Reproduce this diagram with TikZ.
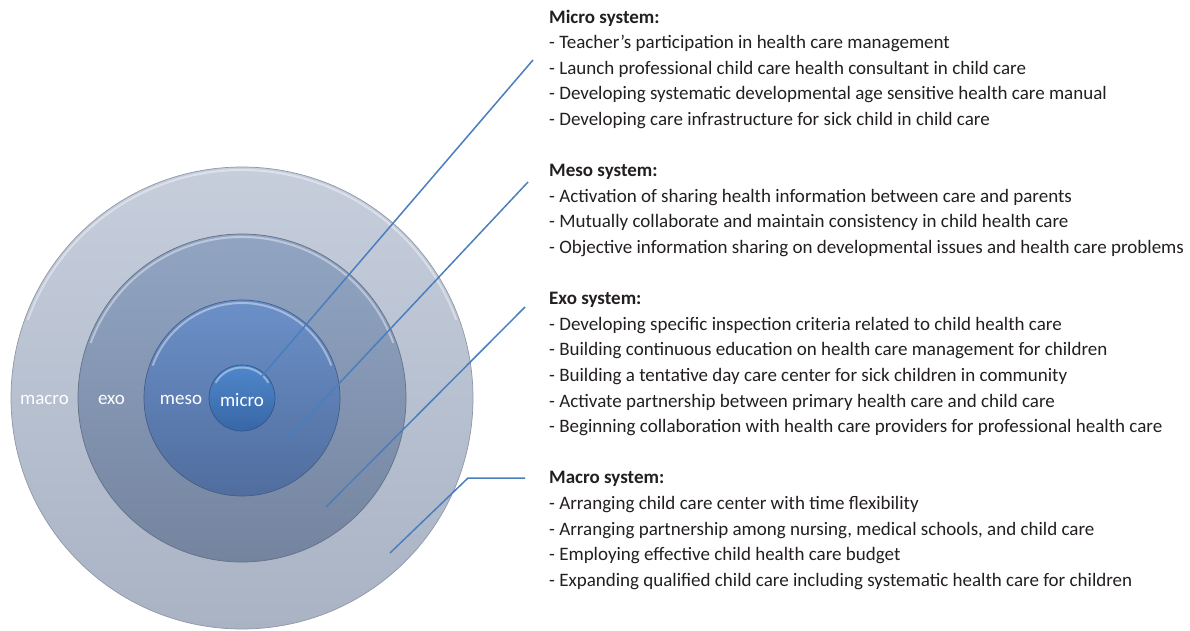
\documentclass[tikz,border=0pt]{standalone}
\usepackage{fontspec}
\setmainfont{Carlito}
\definecolor{macroTop}{HTML}{C6CEDC}
\definecolor{macroBot}{HTML}{A9B3C4}
\definecolor{exoTop}{HTML}{91A5C3}
\definecolor{exoBot}{HTML}{74849F}
\definecolor{mesoTop}{HTML}{6B90C8}
\definecolor{mesoBot}{HTML}{506D9E}
\definecolor{microTop}{HTML}{4F88CB}
\definecolor{microBot}{HTML}{3866A6}
\definecolor{linkblue}{HTML}{4A7EBE}
\definecolor{txt}{HTML}{231F20}
\begin{document}
\begin{tikzpicture}[x=1pt,y=-1pt,
  ring/.style={circle,inner sep=0pt,draw=#1Bot!85!black,line width=0.7pt,top color=#1Top,bottom color=#1Bot},
  rim/.style={draw=white,draw opacity=0.4,line width=2pt},
  conn/.style={draw=linkblue,line width=1.5pt},
  ringlabel/.style={text=white,inner sep=0pt,font=\fontsize{19}{19}\selectfont},
  head/.style={anchor=base west,inner sep=0pt,text=txt,font=\fontsize{19}{19}\selectfont\bfseries},
  item/.style={anchor=base west,inner sep=0pt,text=txt,font=\fontsize{19}{19}\selectfont}]
\useasboundingbox (0,0) rectangle (1190,630);
\fill[white] (0,0) rectangle (1190,630);

% rings
\node[ring=macro,minimum size=462pt] (macro) at (242,398) {};
\draw[rim] (macro.center) ++(200:228) arc[start angle=200,end angle=340,radius=228];
\node[ring=exo,minimum size=328pt] (exo) at (242,398) {};
\draw[rim] (exo.center) ++(200:161) arc[start angle=200,end angle=340,radius=161];
\node[ring=meso,minimum size=196pt] (meso) at (242,398) {};
\draw[rim] (meso.center) ++(200:95) arc[start angle=200,end angle=340,radius=95];
\node[ring=micro,minimum size=66pt] (micro) at (242,398) {};
\draw[rim] (micro.center) ++(210:30.5) arc[start angle=210,end angle=330,radius=30.5];

\node[ringlabel] (lmacro) at (44.5,400) {macro};
\node[ringlabel] (lexo) at (111.5,400) {exo};
\node[ringlabel] (lmeso) at (181,400) {meso};
\node[ringlabel] (lmicro) at (242,400) {micro};

% connectors
\coordinate (microA) at (533,60);  \coordinate (microB) at (250,390);
\coordinate (mesoA) at (528,182);  \coordinate (mesoB) at (288,438);
\coordinate (exoA) at (525,307);   \coordinate (exoB) at (326,507);
\coordinate (macroA) at (525,478); \coordinate (macroK) at (468,478); \coordinate (macroB) at (390,553);
\draw[conn] (microA) -- (microB);
\draw[conn] (mesoA) -- (mesoB);
\draw[conn] (exoA) -- (exoB);
\draw[conn] (macroA) -- (macroK) -- (macroB);

% text
\node[head] (t0) at (549,{23+25.6*0}) {Micro system:};
\node[item] (t1) at (549,{23+25.6*1}) {- Teacher's participation in health care management};
\node[item] (t2) at (549,{23+25.6*2}) {- Launch professional child care health consultant in child care};
\node[item] (t3) at (549,{23+25.6*3}) {- Developing systematic developmental age sensitive health care manual};
\node[item] (t4) at (549,{23+25.6*4}) {- Developing care infrastructure for sick child in child care};

\node[head] (t6) at (549,{23+25.6*6}) {Meso system:};
\node[item] (t7) at (549,{23+25.6*7}) {- Activation of sharing health information between care and parents};
\node[item] (t8) at (549,{23+25.6*8}) {- Mutually collaborate and maintain consistency in child health care};
\node[item] (t9) at (549,{23+25.6*9}) {- Objective information sharing on developmental issues and health care problems};

\node[head] (t11) at (549,{23+25.6*11}) {Exo system:};
\node[item] (t12) at (549,{23+25.6*12}) {- Developing specific inspection criteria related to child health care};
\node[item] (t13) at (549,{23+25.6*13}) {- Building continuous education on health care management for children};
\node[item] (t14) at (549,{23+25.6*14}) {- Building a tentative day care center for sick children in community};
\node[item] (t15) at (549,{23+25.6*15}) {- Activate partnership between primary health care and child care};
\node[item] (t16) at (549,{23+25.6*16}) {- Beginning collaboration with health care providers for professional health care};

\node[head] (t18) at (549,{23+25.6*18}) {Macro system:};
\node[item] (t19) at (549,{23+25.6*19}) {- Arranging child care center with time flexibility};
\node[item] (t20) at (549,{23+25.6*20}) {- Arranging partnership among nursing, medical schools, and child care};
\node[item] (t21) at (549,{23+25.6*21}) {- Employing effective child health care budget};
\node[item] (t22) at (549,{23+25.6*22}) {- Expanding qualified child care including systematic health care for children};
\end{tikzpicture}
\end{document}
